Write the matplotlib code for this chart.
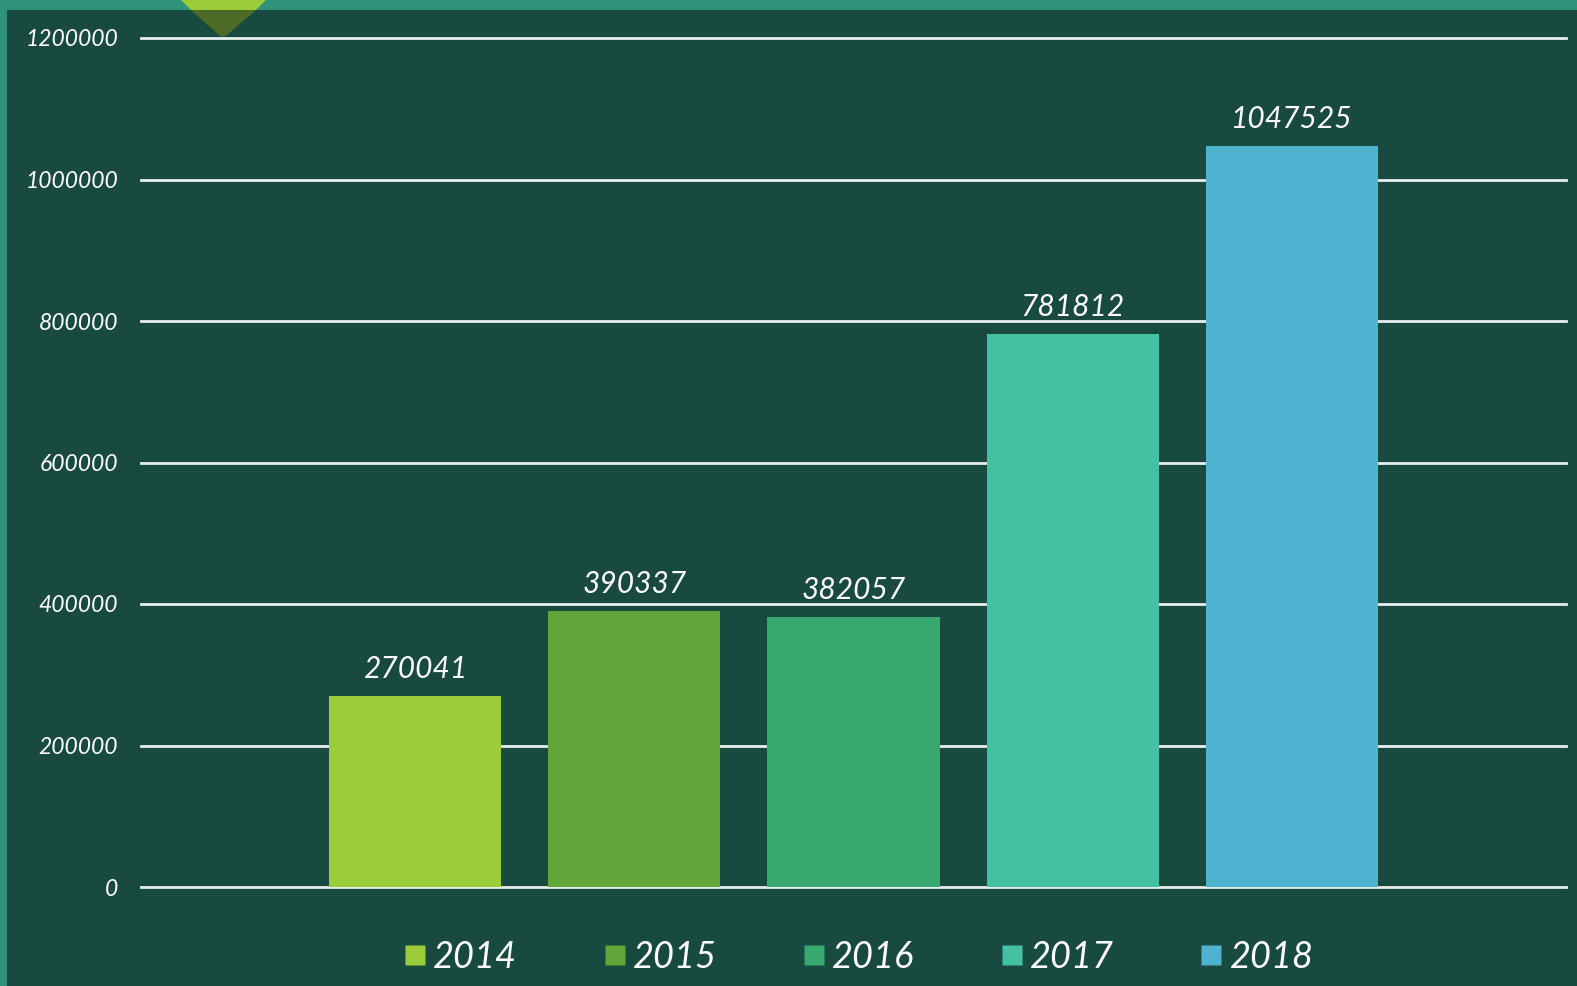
import matplotlib
matplotlib.use("Agg")
import matplotlib.pyplot as plt
from matplotlib.patches import Rectangle, Polygon
from matplotlib.lines import Line2D

years = ["2014", "2015", "2016", "2017", "2018"]
values = [270041, 390337, 382057, 781812, 1047525]
colors = ["#9ACD38", "#62A539", "#37A870", "#44C1A3", "#4DB3CF"]
yticks = [0, 200000, 400000, 600000, 800000, 1000000, 1200000]

BG = "#194A40"
BAND = "#2F937A"
FONT = ["Lato", "DejaVu Sans"]

W, H = 1577, 986
fig = plt.figure(figsize=(W / 100, H / 100), dpi=100, facecolor=BG)

# frame bands
fig.patches.append(Rectangle((0, 1 - 10 / H), 1, 10 / H, transform=fig.transFigure,
                             facecolor=BAND, edgecolor="none", zorder=0))
fig.patches.append(Rectangle((0, 0), 7 / W, 1, transform=fig.transFigure,
                             facecolor=BAND, edgecolor="none", zorder=0))
# decorative triangle
def fp(x, y):
    return (x / W, 1 - y / H)
fig.patches.append(Polygon([fp(181, 0), fp(266, 0), fp(256, 10), fp(191, 10)],
                           closed=True, transform=fig.transFigure,
                           facecolor="#9ACD38", edgecolor="none", zorder=1))
fig.patches.append(Polygon([fp(191, 10), fp(256, 10), fp(227, 35), fp(223, 37), fp(219, 35)],
                           closed=True, transform=fig.transFigure,
                           facecolor="#4E6A27", edgecolor="none", zorder=1))

ax = fig.add_axes([141 / W, 1 - 887 / H, (1566 - 141) / W, (887 - 38) / H])
ax.set_facecolor("none")

n = len(values)
pos = [i - (n - 1) / 2 for i in range(n)]
width = 172 / 219
ax.bar(pos, values, width=width, color=colors, zorder=3)

for p, v in zip(pos, values):
    ax.text(p, v + 18000, str(v), ha="center", va="bottom", color="white",
            fontsize=21.5, fontstyle="italic", family=FONT, zorder=4)

ax.set_xlim(-3.25, 3.25)
ax.set_ylim(0, 1200000)
ax.set_yticks(yticks)
ax.set_yticklabels([str(t) for t in yticks])
for lab in ax.get_yticklabels():
    lab.set_fontstyle("italic")
    lab.set_family(FONT)
ax.tick_params(axis="y", length=0, pad=16.5, labelsize=16.5, labelcolor="white")
ax.set_xticks([])
for s in ax.spines.values():
    s.set_visible(False)
ax.grid(axis="y", color="#E8EEEC", linewidth=2, zorder=1)
ax.set_axisbelow(True)
for gl in ax.get_ygridlines():
    gl.set_clip_on(False)

handles = [Line2D([0], [0], marker="s", linestyle="none", markersize=14,
                  markerfacecolor=c, markeredgecolor="none") for c in colors]
leg = fig.legend(handles, years, loc="center", bbox_to_anchor=(857 / W, 1 - 957 / H),
                 ncol=5, frameon=False, handletextpad=0.1, columnspacing=2.3,
                 handlelength=0.8,
                 prop={"family": FONT, "style": "italic", "size": 26})
for t in leg.get_texts():
    t.set_color("white")

fig.savefig("out.png", dpi=100, facecolor=BG)
